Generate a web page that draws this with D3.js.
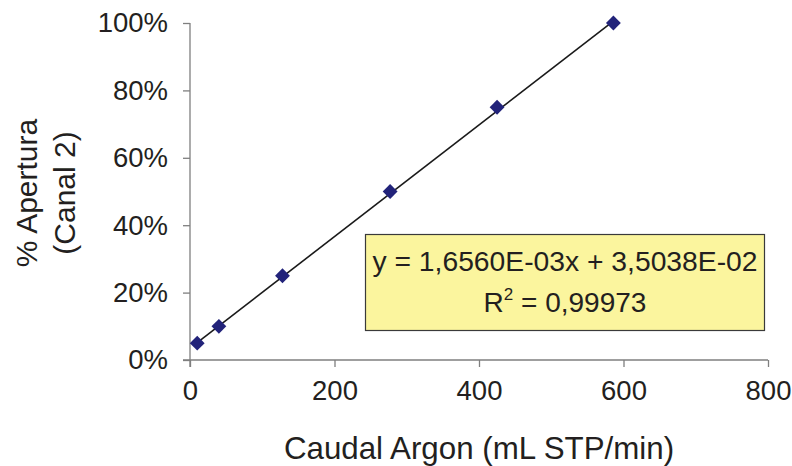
<!DOCTYPE html>
<html><head><meta charset="utf-8">
<script src="https://cdn.jsdelivr.net/npm/d3@7"></script>
<style>body{margin:0;background:#fff}text{font-family:"Liberation Sans",Arial,sans-serif;fill:#231f20}</style>
</head><body><svg id="c" width="792" height="466"></svg>
<script>
const flow = [10, 40, 128, 277, 425, 586];
const opening = [0.05, 0.10, 0.25, 0.50, 0.75, 1.00];
const xTicks = [0, 200, 400, 600, 800];
const yTicks = [0, 0.2, 0.4, 0.6, 0.8, 1.0];
const slope = 1.6560e-3, intercept = 3.5038e-2;
const eqText = "y = 1,6560E-03x + 3,5038E-02";
const r2Text = "0,99973";

const svg = d3.select("#c");
const x = d3.scaleLinear().domain([0, 800]).range([190, 768]);
const y = d3.scaleLinear().domain([0, 1]).range([360, 23]);

const gx = svg.append("g").attr("transform", "translate(0,360)")
  .call(d3.axisBottom(x).tickValues(xTicks).tickSize(7).tickPadding(13).tickFormat(d3.format("d")));
const gy = svg.append("g").attr("transform", "translate(190,0)")
  .call(d3.axisLeft(y).tickValues(yTicks).tickSize(7).tickPadding(15).tickFormat(d => Math.round(d*100) + "%"));
[gx, gy].forEach(g => {
  g.select(".domain").attr("stroke", "#7f7f7f").attr("stroke-width", 1.3);
  g.selectAll(".tick line").attr("stroke", "#7f7f7f").attr("stroke-width", 1.3);
  g.selectAll(".tick text").attr("font-size", 27.5).attr("fill", "#231f20")
   .style("font-family", '"Liberation Sans",Arial,sans-serif');
});
gx.select(".domain").attr("d", `M${x(0)-7},0H${x(800)}`);
gy.select(".domain").attr("d", `M0,${y(1)}V${y(0)+7}`);

// trendline
const x0 = d3.min(flow), x1 = d3.max(flow);
svg.append("line")
  .attr("x1", x(x0)).attr("y1", y(slope*x0 + intercept))
  .attr("x2", x(x1)).attr("y2", y(slope*x1 + intercept))
  .attr("stroke", "#1a1a1a").attr("stroke-width", 1.6);

// markers
svg.selectAll("path.pt").data(flow).join("path").attr("class", "pt")
  .attr("d", d3.symbol().type(d3.symbolSquare).size(110))
  .attr("transform", (d, i) => `translate(${x(d)},${y(opening[i])}) rotate(45)`)
  .attr("fill", "#22237a");

// equation box
svg.append("rect").attr("x", 365.5).attr("y", 234.5).attr("width", 399).attr("height", 96)
  .attr("fill", "#fbf59e").attr("stroke", "#3a3a3a").attr("stroke-width", 1.2);
svg.append("text").attr("x", 565).attr("y", 271).attr("text-anchor", "middle")
  .attr("font-size", 28).attr("textLength", 385).attr("lengthAdjust", "spacingAndGlyphs").text(eqText);
const t2 = svg.append("text").attr("x", 565).attr("y", 312).attr("text-anchor", "middle").attr("font-size", 28);
t2.append("tspan").text("R");
t2.append("tspan").attr("dy", -12).attr("font-size", 17).text("2");
t2.append("tspan").attr("dy", 12).text(" = " + r2Text);

// axis titles
svg.append("text").attr("x", x(400)).attr("y", 459).attr("text-anchor", "middle")
  .attr("font-size", 31.3).text("Caudal Argon (mL STP/min)");
const yt = svg.append("text").attr("transform", "translate(37,193) rotate(-90)")
  .attr("text-anchor", "middle").attr("font-size", 30);
yt.append("tspan").attr("x", 0).attr("dy", 0).text("% Apertura");
yt.append("tspan").attr("x", 0).attr("dy", 38).text("(Canal 2)");
</script></body></html>
